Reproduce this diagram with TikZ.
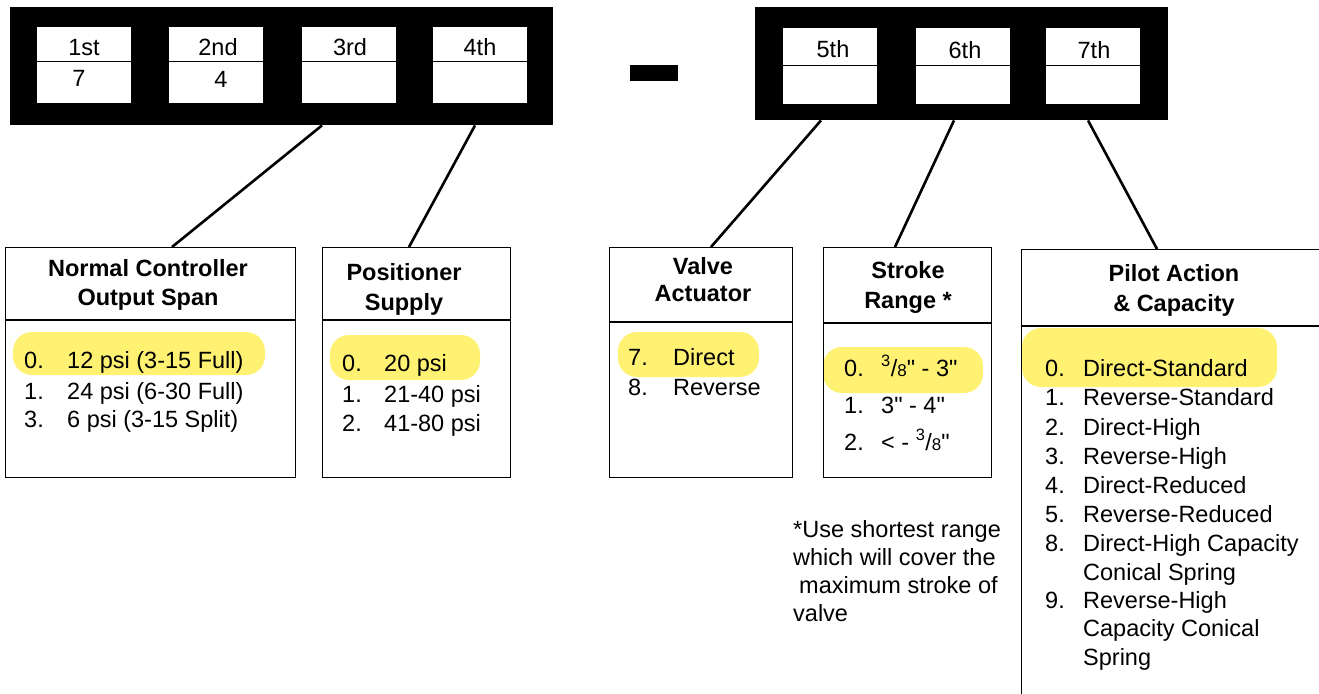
\documentclass[tikz,border=0pt]{standalone}
\usepackage{fontspec}
\setmainfont{Liberation Sans}[Ligatures=TeXOff]
\usetikzlibrary{calc}
\definecolor{hl}{RGB}{255,242,115}
\begin{document}
\begin{tikzpicture}[x=1pt,y=-1pt,
  txt/.style={inner sep=0pt, font=\fontsize{23.5}{29}\selectfont, anchor=base west},
  lbl/.style={inner sep=0pt, font=\fontsize{23.5}{29}\selectfont, anchor=base},
  hd/.style={inner sep=0pt, font=\fontsize{23.5}{29}\selectfont\bfseries, anchor=base},
  optbox/.style={draw, line width=1.4pt, inner sep=0pt, anchor=north west},
  bar/.style={fill=black, inner sep=0pt, anchor=north west},
  cell/.style={fill=white, inner sep=0pt, anchor=north west, minimum width=94pt, minimum height=76pt},
  conn/.style={line width=2.6pt},
  divl/.style={line width=1.4pt},
  cdiv/.style={line width=0.9pt},
  hilite/.style={fill=hl, rounded corners=19pt}]
\useasboundingbox (0,0) rectangle (1319,693);

% black bars and dash
\node[bar, minimum width=543pt, minimum height=118pt] (barL) at (10,7) {};
\node[bar, minimum width=413pt, minimum height=113pt] (barR) at (755,7) {};
\node[bar, minimum width=48pt, minimum height=16pt] (dash) at (630,65) {};

% cells
\node[cell] (c1) at (37,27) {};
\node[cell] (c2) at (169,27) {};
\node[cell] (c3) at (302,27) {};
\node[cell] (c4) at (433,27) {};
\node[cell] (c5) at (783,28) {};
\node[cell] (c6) at (916,28) {};
\node[cell] (c7) at (1046,28) {};
\foreach \c/\d in {c1/34,c2/34,c3/34,c4/34,c5/37,c6/37,c7/37}
  \draw[cdiv] ($(\c.north west)+(0,\d)$) -- ($(\c.north east)+(0,\d)$);
\node[lbl] (l1) at (84,56) {1st};
\node[lbl] (l2) at (218,56) {2nd};
\node[lbl] (l3) at (350,56) {3rd};
\node[lbl] (l4) at (480,56) {4th};
\node[lbl] (v1) at (79,86) {7};
\node[lbl] (v2) at (221,87) {4};
\node[lbl] (l5) at (833,58) {5th};
\node[lbl] (l6) at (965,59) {6th};
\node[lbl] (l7) at (1094,59) {7th};

% highlights
\fill[hilite] (13,332) rectangle (265,375);
\fill[hilite] (330,335) rectangle (480,380);
\fill[hilite] (618,332) rectangle (759,377);
\fill[hilite] (823,347) rectangle (983,393);
\fill[hilite] (1022,328) rectangle (1277,387);

% option boxes
\node[optbox, minimum width=290pt, minimum height=230pt] (nc) at (5,247) {};
\node[optbox, minimum width=188pt, minimum height=230pt] (ps) at (322,247) {};
\node[optbox, minimum width=183pt, minimum height=230pt] (va) at (609,247) {};
\node[optbox, minimum width=168pt, minimum height=230pt] (sr) at (823,247) {};
\node[optbox, minimum width=320pt, minimum height=470pt] (pa) at (1021,249) {};
\draw[divl] ($(nc.north west)+(0,73)$) -- ($(nc.north east)+(0,73)$);
\draw[divl] ($(ps.north west)+(0,73)$) -- ($(ps.north east)+(0,73)$);
\draw[divl] ($(va.north west)+(0,75)$) -- ($(va.north east)+(0,75)$);
\draw[divl] ($(sr.north west)+(0,76)$) -- ($(sr.north east)+(0,76)$);
\draw[divl] ($(pa.north west)+(0,77)$) -- ($(pa.north east)+(0,77)$);

% connectors
\draw[conn] ([xshift=312pt]barL.south west) -- ([xshift=167pt]nc.north west);
\draw[conn] ([xshift=465pt]barL.south west) -- ([xshift=87pt]ps.north west);
\draw[conn] ([xshift=66pt]barR.south west) -- ([xshift=102pt]va.north west);
\draw[conn] ([xshift=199pt]barR.south west) -- ([xshift=72pt]sr.north west);
\draw[conn] ([xshift=333pt]barR.south west) -- ([xshift=136pt]pa.north west);

% headers
\node[hd] (h1a) at (148,276) {Normal Controller};
\node[hd] (h1b) at (148,305) {Output Span};
\node[hd] (h2a) at (404,280) {Positioner};
\node[hd] (h2b) at (404,310) {Supply};
\node[hd] (h3a) at (703,274) {Valve};
\node[hd] (h3b) at (703,301) {Actuator};
\node[hd] (h4a) at (908,278) {Stroke};
\node[hd] (h4b) at (908,308) {Range *};
\node[hd] (h5a) at (1174,281) {Pilot Action};
\node[hd] (h5b) at (1174,311) {\& Capacity};

% Normal controller items
\node[txt] (n0) at (24,368) {0.};
\node[txt] (t0) at (67,368) {12 psi (3-15 Full)};
\node[txt] (n1) at (24,399) {1.};
\node[txt] (t1) at (67,399) {24 psi (6-30 Full)};
\node[txt] (n3) at (24,427) {3.};
\node[txt] (t3) at (67,427) {6 psi (3-15 Split)};

% Positioner items
\node[txt] (p0) at (342,371) {0.};
\node[txt] (q0) at (384,371) {20 psi};
\node[txt] (p1) at (342,402) {1.};
\node[txt] (q1) at (384,402) {21-40 psi};
\node[txt] (p2) at (342,431) {2.};
\node[txt] (q2) at (384,431) {41-80 psi};

% Valve items
\node[txt] (a7) at (628,365) {7.};
\node[txt] (b7) at (673,365) {Direct};
\node[txt] (a8) at (628,395) {8.};
\node[txt] (b8) at (673,395) {Reverse};

% Stroke items
\node[txt] (s0) at (844,376) {0.};
\node[txt] (r0) at (881,376) {\textsuperscript{3}/{\fontsize{17}{17}\selectfont 8}" - 3"};
\node[txt] (s1) at (844,413) {1.};
\node[txt] (r1) at (881,413) {3" - 4"};
\node[txt] (s2) at (844,450) {2.};
\node[txt] (r2) at (881,450) {< - \textsuperscript{3}/{\fontsize{17}{17}\selectfont 8}"};

% Pilot items
\node[txt] (k0) at (1045,376) {0.};
\node[txt] (m0) at (1083,376) {Direct-Standard};
\node[txt] (k1) at (1045,405) {1.};
\node[txt] (m1) at (1083,405) {Reverse-Standard};
\node[txt] (k2) at (1045,435) {2.};
\node[txt] (m2) at (1083,435) {Direct-High};
\node[txt] (k3) at (1045,464) {3.};
\node[txt] (m3) at (1083,464) {Reverse-High};
\node[txt] (k4) at (1045,493) {4.};
\node[txt] (m4) at (1083,493) {Direct-Reduced};
\node[txt] (k5) at (1045,522) {5.};
\node[txt] (m5) at (1083,522) {Reverse-Reduced};
\node[txt] (k8) at (1045,551) {8.};
\node[txt] (m8) at (1083,551) {Direct-High Capacity};
\node[txt] (m8b) at (1083,580) {Conical Spring};
\node[txt] (k9) at (1045,608) {9.};
\node[txt] (m9) at (1083,608) {Reverse-High};
\node[txt] (m9b) at (1083,636) {Capacity Conical};
\node[txt] (m9c) at (1083,665) {Spring};

% footnote
\node[txt] (f1) at (793,537) {*Use shortest range};
\node[txt] (f2) at (793,565) {which will cover the};
\node[txt] (f3) at (799,593) {maximum stroke of};
\node[txt] (f4) at (793,621) {valve};
\end{tikzpicture}
\end{document}
